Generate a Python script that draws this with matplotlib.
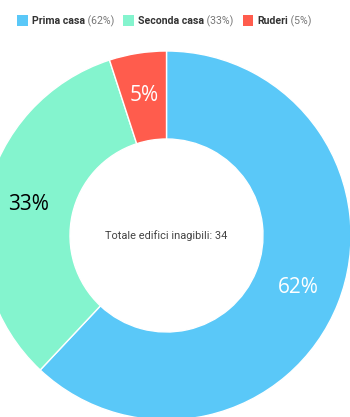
import matplotlib.pyplot as plt
from matplotlib.patches import Rectangle
import numpy as np

categories = ["Prima casa", "Seconda casa", "Ruderi"]
shares = [62, 33, 5]
total_buildings = 34
colors = ["#5AC8F8", "#84F4CE", "#FF5C4D"]
label_colors = ["white", "black", "white"]

W, H = 350, 417
fig = plt.figure(figsize=(W / 100, H / 100), dpi=100)
ax = fig.add_axes([0, 0, 1, 1])

cx, cy = 166.5, H - 235.5
r_out, r_in = 184.5, 96.5

ax.pie(shares, colors=colors, startangle=90, counterclock=False,
       center=(cx, cy), radius=r_out, frame=True,
       wedgeprops=dict(width=r_out - r_in, edgecolor="white", linewidth=1))
ax.set_xlim(0, W)
ax.set_ylim(0, H)
ax.set_aspect("equal")
ax.axis("off")

# percentage labels in the middle of each ring segment
start = 90.0
r_lab = (r_out + r_in) / 2 + 1
for val, col in zip(shares, label_colors):
    mid = np.deg2rad(start - val * 3.6 / 2)
    start -= val * 3.6
    ax.text(cx + r_lab * np.cos(mid), cy + r_lab * np.sin(mid), f"{val}%",
            ha="center", va="center", fontsize=15, color=col, family="Open Sans")

ax.text(cx, cy, f"Totale edifici inagibili: {total_buildings}", ha="center", va="center",
        fontsize=7.9, color="#444444", family="Roboto")

# legend across the top
x = 17
for name, val, col in zip(categories, shares, colors):
    ax.add_patch(Rectangle((x, H - 26), 10.5, 11, facecolor=col, edgecolor="none"))
    t1 = ax.text(x + 15, H - 21, name, ha="left", va="center", fontsize=7.6,
                 fontweight="bold", color="#333333", family="Roboto")
    t2 = ax.annotate(f" ({val}%)", xy=(1, 0.5), xycoords=t1, ha="left", va="center",
                     fontsize=7.6, color="#777777", family="Roboto")
    fig.canvas.draw()
    bb = t2.get_window_extent()
    x = ax.transData.inverted().transform((bb.x1, 0))[0] + 9

fig.savefig("out.png", dpi=100)
